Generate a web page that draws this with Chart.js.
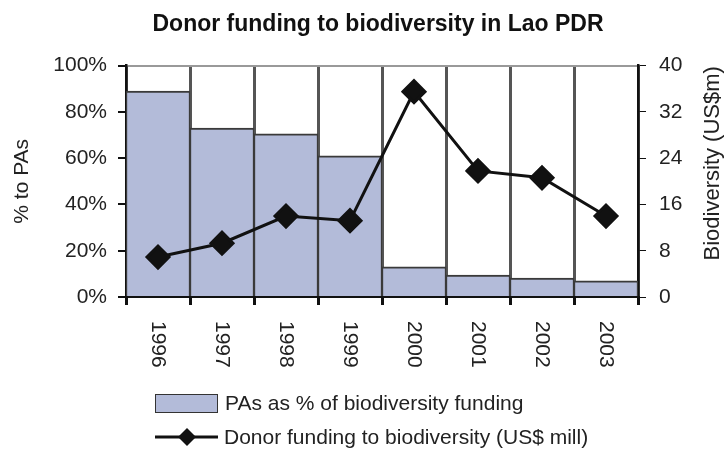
<!DOCTYPE html>
<html>
<head>
<meta charset="utf-8">
<script src="https://cdn.jsdelivr.net/npm/chart.js@4"></script>
<style>
  body { margin: 0; background: #fff; }
  #wrap { position: relative; width: 728px; height: 449px; font-family: "Liberation Sans", Arial, sans-serif; color: #222; }
  #legend { position: absolute; left: 155px; top: 386px; font-size: 21px; line-height: 24px; }
  .row { display: flex; align-items: center; height: 34px; }
  .swatch { width: 61px; height: 17px; background: #b3bbd9; border: 1px solid #333; margin-right: 7px; }
  .row svg { margin-right: 6px; }
</style>
</head>
<body>
<div id="wrap">
  <canvas id="laochart" width="728" height="449"></canvas>
  <div id="legend">
    <div class="row"><span class="swatch"></span>PAs as % of biodiversity funding</div>
    <div class="row"><svg width="63" height="22"><line x1="0" y1="11" x2="63" y2="11" stroke="#111" stroke-width="3"/><polygon points="32,2 41,11 32,20 23,11" fill="#111"/></svg>Donor funding to biodiversity (US$ mill)</div>
  </div>
</div>
<script>
const years = ['1996', '1997', '1998', '1999', '2000', '2001', '2002', '2003']
const paShare = [89, 73, 70.5, 61, 13, 9.5, 8.2, 7]
const donorFunding = [6.9, 9.3, 14.0, 13.2, 35.5, 21.8, 20.6, 14.0]
const pctTicks = [0, 20, 40, 60, 80, 100]
const usdTicks = [0, 8, 16, 24, 32, 40]

const font = '"Liberation Sans", Arial, sans-serif'

// x labels read top to bottom and the right title bottom to top, chart.js can't do either
const extraText = {
  id: 'extraText',
  afterDraw(chart) {
    const { ctx, chartArea, scales } = chart
    ctx.save()
    ctx.fillStyle = '#222'
    ctx.font = `21px ${font}`
    ctx.textAlign = 'left'
    ctx.textBaseline = 'middle'
    years.forEach((year, i) => {
      ctx.save()
      ctx.translate(scales.x.getPixelForTick(i), chartArea.bottom + 24)
      ctx.rotate(Math.PI / 2)
      ctx.fillText(year, 0, 0)
      ctx.restore()
    })
    ctx.font = `22px ${font}`
    ctx.textAlign = 'center'
    ctx.translate(scales.y1.right - 15, (chartArea.top + chartArea.bottom) / 2 - 18)
    ctx.rotate(-Math.PI / 2)
    ctx.fillText('Biodiversity (US$m)', 0, 0)
    ctx.restore()
  }
}

const data = {
  labels: years,
  datasets: [{
    type: 'line',
    label: 'Donor funding to biodiversity (US$ mill)',
    data: donorFunding,
    yAxisID: 'y1',
    borderColor: '#111',
    borderWidth: 3,
    pointStyle: 'rectRot',
    pointRadius: 11,
    pointBackgroundColor: '#111',
    pointBorderColor: '#111',
    order: 0
  }, {
    type: 'bar',
    label: 'PAs as % of biodiversity funding',
    data: paShare,
    yAxisID: 'y',
    backgroundColor: '#b3bbd9',
    borderColor: '#3a3a3a',
    // side borders keep the year dividers visible through the bars
    borderWidth: { top: 2, left: 1.5, right: 1.5, bottom: 0 },
    barPercentage: 1,
    categoryPercentage: 1,
    order: 1
  }]
}

const config = {
  data: data,
  plugins: [extraText],
  options: {
    responsive: false,
    animation: false,
    layout: { padding: { left: 28, right: 0, top: 0, bottom: 0 } },
    plugins: {
      legend: { display: false },
      tooltip: { enabled: false },
      title: {
        display: true,
        text: 'Donor funding to biodiversity in Lao PDR',
        color: '#111',
        font: { family: font, size: 23, weight: 'bold' },
        padding: { top: 11, bottom: 27 }
      }
    },
    scales: {
      x: {
        afterFit: (scale) => { scale.height = 152 },
        grid: { offset: true, color: '#555', lineWidth: 3, tickColor: '#111', tickLength: 8 },
        border: { color: '#111', width: 2 },
        ticks: { display: false }
      },
      y: {
        position: 'left',
        min: 0,
        max: 100,
        afterFit: (scale) => { scale.width = 98 },
        afterBuildTicks: (scale) => { scale.ticks = pctTicks.map(v => ({ value: v })) },
        ticks: { padding: 11, color: '#222', font: { family: font, size: 21 }, callback: (v) => v + '%' },
        grid: {
          color: (c) => c.tick && c.tick.value === 100 ? '#999' : 'rgba(0,0,0,0)',
          lineWidth: 2,
          tickColor: '#111',
          tickLength: 8
        },
        border: { color: '#111', width: 2.5 },
        title: { display: true, text: '% to PAs', color: '#222', font: { family: font, size: 21 }, padding: { top: -18.6 } }
      },
      y1: {
        position: 'right',
        min: 0,
        max: 40,
        afterFit: (scale) => { scale.width = 90 },
        afterBuildTicks: (scale) => { scale.ticks = usdTicks.map(v => ({ value: v })) },
        ticks: { padding: 13, color: '#222', font: { family: font, size: 21 } },
        grid: { drawOnChartArea: false, tickColor: '#111', tickLength: 8 },
        border: { color: '#111', width: 2.5 }
      }
    }
  }
}

const laoChart = new Chart(document.getElementById('laochart'), config)
</script>
</body>
</html>
